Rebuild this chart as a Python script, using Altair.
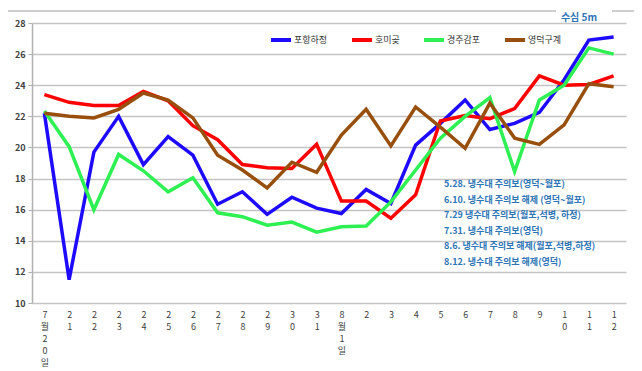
import altair as alt
import pandas as pd

dates = ["7월20일", "21", "22", "23", "24", "25", "26", "27", "28", "29", "30", "31",
         "8월1일", "2", "3", "4", "5", "6", "7", "8", "9", "10", "11", "12"]
series_names = ["포항하정", "호미곶", "경주감포", "영덕구계"]
series_colors = ["#1E0BFF", "#FF0000", "#2EF052", "#984F0E"]

pohang = [22.2, 11.5, 19.7, 22.0, 18.9, 20.7, 19.5, 16.35, 17.15, 15.7, 16.8, 16.1,
          15.75, 17.3, 16.4, 20.15, 21.55, 23.05, 21.15, 21.55, 22.25, 24.35, 26.9, 27.1]
homigot = [23.4, 22.9, 22.7, 22.7, 23.6, 23.0, 21.4, 20.5, 18.9, 18.7, 18.65, 20.2,
           16.55, 16.55, 15.45, 16.95, 21.7, 22.05, 21.85, 22.5, 24.6, 24.0, 24.05, 24.6]
gyeongju = [22.35, 20.05, 16.0, 19.55, 18.5, 17.15, 18.05, 15.8, 15.55, 15.0, 15.2, 14.55,
            14.9, 14.95, 16.5, 18.55, 20.6, 22.0, 23.2, 18.45, 23.05, 24.0, 26.4, 26.0]
yeongdeok = [22.2, 22.0, 21.9, 22.45, 23.5, 23.05, 21.9, 19.5, 18.55, 17.4, 19.05, 18.4,
             20.8, 22.45, 20.1, 22.6, 21.3, 19.95, 22.85, 20.6, 20.2, 21.45, 24.1, 23.9]

annotations = [
    "5.28. 냉수대 주의보(영덕~월포)",
    "6.10. 냉수대 주의보 해제 (영덕~월포)",
    "7.29 냉수대 주의보(월포,석병, 하정)",
    "7.31. 냉수대 주의보(영덕)",
    "8.6. 냉수대 주의보 해제(월포,석병,하정)",
    "8.12. 냉수대 주의보 해제(영덕)",
]
depth_label = "수심 5m"

FONT = "Noto Sans CJK KR"

rows = []
for name, vals in zip(series_names, [pohang, homigot, gyeongju, yeongdeok]):
    for d, v in zip(dates, vals):
        rows.append({"date": d, "series": name, "value": v})
df = pd.DataFrame(rows)

lines = alt.Chart(df).mark_line(strokeWidth=3.5, strokeJoin="miter").encode(
    x=alt.X("date:N", sort=dates,
            scale=alt.Scale(padding=0.5),
            axis=alt.Axis(title=None, labelAngle=0, labelExpr="split(datum.label, '')",
                          labelLineHeight=12, ticks=False, domain=False, grid=False,
                          labelFontSize=9, labelPadding=7, labelOverlap=False,
                          labelColor="#404040", labelFont=FONT)),
    y=alt.Y("value:Q",
            scale=alt.Scale(domain=[10, 28], nice=False),
            axis=alt.Axis(values=list(range(10, 29, 2)), title=None, grid=True,
                          gridColor="#c4c4c4", gridWidth=1.5, domainColor="#b0b0b0",
                          domainWidth=1.5, tickColor="#b0b0b0", tickSize=4,
                          labelFontSize=9, labelFontWeight="bold", labelColor="#404040",
                          labelPadding=3, labelFont=FONT)),
    color=alt.Color("series:N", sort=series_names,
                    scale=alt.Scale(domain=series_names, range=series_colors),
                    legend=alt.Legend(orient="none", legendX=237, legendY=5,
                                      direction="horizontal", title=None,
                                      symbolType="stroke", symbolStrokeWidth=4,
                                      symbolSize=400, labelFontSize=9,
                                      labelFont=FONT, labelColor="#333333",
                                      columnPadding=16, labelOffset=1, padding=0)),
    detail="series:N",
)

top_rule = alt.Chart(pd.DataFrame({"a": [0]})).mark_rule(color="#bdbdbd", strokeWidth=1.5).encode(
    x=alt.value(-24), x2=alt.value(610), y=alt.value(-12))

white_box = alt.Chart(pd.DataFrame({"a": [0]})).mark_rect(color="white").encode(
    x=alt.value(524), x2=alt.value(580), y=alt.value(-14), y2=alt.value(-1))

depth_text = alt.Chart(pd.DataFrame({"t": [depth_label]})).mark_text(
    fontSize=10, fontWeight="bold", color="#2E75B6", font=FONT, align="center",
    baseline="middle").encode(x=alt.value(547), y=alt.value(-5), text="t:N")

ann_text = alt.Chart(pd.DataFrame({"a": [0]})).mark_text(
    text=annotations, lineHeight=15.6, fontSize=9, fontWeight="bold", color="#2E75B6",
    font=FONT, align="left", baseline="middle").encode(
    x=alt.value(412), y=alt.value(161))

chart = alt.layer(top_rule, white_box, depth_text, ann_text, lines).properties(
    width=594, height=280,
    autosize=alt.AutoSizeParams(type="none"),
    padding={"left": 24, "top": 15, "right": 8, "bottom": 65},
).configure_view(stroke=None)

chart.save("out.html", embed_options={"renderer": "svg", "actions": False})
